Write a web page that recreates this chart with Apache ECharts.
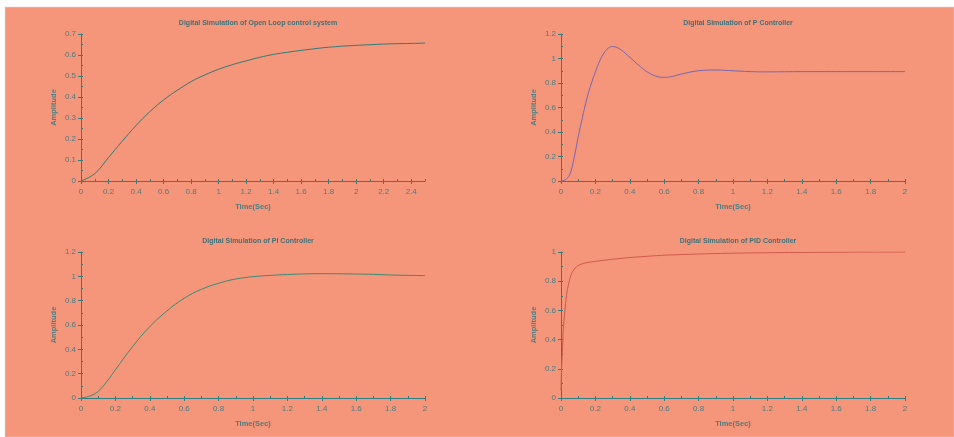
<!DOCTYPE html>
<html><head><meta charset="utf-8">
<script src="https://cdn.jsdelivr.net/npm/echarts@6/dist/echarts.min.js"></script>
<style>html,body{margin:0;padding:0;background:#fff}#c{width:954px;height:437px}</style>
</head><body><div id="c"></div>
<script>
// ---- data ----
const titles = [
  'Digital Simulation of Open Loop control system',
  'Digital Simulation of P Controller',
  'Digital Simulation of PI Controller',
  'Digital Simulation of PID Controller'
];
const openT = [0,0.1,0.2,0.3,0.4,0.5,0.6,0.7,0.8,0.9,1.0,1.1,1.2,1.3,1.4,1.5,1.6,1.7,1.8,1.9,2.0,2.1,2.2,2.3,2.4,2.5];
const openY = [0,0.035,0.112,0.19,0.264,0.33,0.386,0.432,0.473,0.505,0.532,0.554,0.572,0.589,0.603,0.613,0.622,0.63,0.637,0.642,0.646,0.649,0.652,0.654,0.655,0.657];
const pT = [0,0.025,0.05,0.075,0.1,0.125,0.15,0.175,0.2,0.225,0.25,0.275,0.3,0.325,0.35,0.4,0.45,0.5,0.55,0.6,0.65,0.7,0.8,0.9,1.0,1.1,1.2,1.4,1.6,1.8,2.0];
const pY = [0,0.01,0.05,0.18,0.36,0.52,0.67,0.79,0.89,0.98,1.045,1.085,1.098,1.09,1.07,1.01,0.947,0.892,0.857,0.846,0.855,0.873,0.9,0.906,0.9,0.893,0.891,0.893,0.893,0.893,0.893];
const piT = [0,0.05,0.1,0.15,0.2,0.3,0.4,0.5,0.6,0.7,0.8,0.9,1.0,1.1,1.2,1.3,1.4,1.5,1.6,1.7,1.8,1.9,2.0];
const piY = [0,0.015,0.055,0.135,0.232,0.423,0.587,0.716,0.82,0.893,0.943,0.978,0.997,1.008,1.015,1.02,1.022,1.021,1.019,1.016,1.011,1.008,1.006];
const pidT = [0,0.003,0.008,0.0135,0.023,0.033,0.043,0.062,0.091,0.13,0.2,0.3,0.4,0.6,0.8,1.0,1.2,1.4,1.6,1.8,2.0];
const pidY = [0.05,0.2,0.31,0.47,0.6,0.71,0.775,0.854,0.9,0.922,0.936,0.95,0.962,0.978,0.986,0.992,0.995,0.997,0.998,1.0,1.0];
const xMax = [2.5, 2, 2, 2];
const yMax = [0.7, 1.2, 1.2, 1];
const yInterval = [0.1, 0.2, 0.2, 0.2];
const lineColors = ['#2f7a7a', '#7468b4', '#3a8a74', '#cc5a4c'];
const smoothing = [0.4, 0.4, 0.4, 0.25];

// ---- layout ----
const grids = [
  {left: 81, top: 34, width: 344, height: 147},
  {left: 561, top: 34, width: 344, height: 147},
  {left: 81, top: 252, width: 344, height: 146},
  {left: 561, top: 252, width: 344, height: 146}
];
const axisColor = '#2e7f84';
const textColor = '#4d7c82';
const font = 'Liberation Sans, Arial, sans-serif';
const seriesData = [[openT, openY], [pT, pY], [piT, piY], [pidT, pidY]];

const xAxis = [], yAxis = [], series = [], title = [];
grids.forEach((g, i) => {
  title.push({
    text: titles[i], left: g.left + g.width / 2, top: g.top - 19, textAlign: 'center',
    textStyle: {fontSize: 7, fontWeight: 'bold', color: '#3f7078', fontFamily: font}
  });
  xAxis.push({
    type: 'value', gridIndex: i, position: 'bottom', min: 0, max: xMax[i], interval: 0.2,
    name: 'Time(Sec)', nameLocation: 'middle', nameGap: 22,
    nameTextStyle: {fontSize: 7.5, fontWeight: 'bold', color: textColor, fontFamily: font},
    axisLine: {show: true, onZero: false, lineStyle: {color: axisColor, width: 1}},
    axisTick: {show: true, length: 3, lineStyle: {color: axisColor}},
    axisLabel: {fontSize: 8, color: textColor, fontFamily: font, margin: 7, showMaxLabel: i !== 0,
      formatter: v => String(Math.round(v * 10) / 10)},
    splitLine: {show: false}
  });
  xAxis.push({
    type: 'value', gridIndex: i, position: 'bottom', min: 0, max: xMax[i], interval: 0.1,
    axisLine: {show: false}, axisLabel: {show: false}, splitLine: {show: false},
    axisTick: {show: true, inside: true, length: 2, lineStyle: {color: axisColor}}
  });
  yAxis.push({
    type: 'value', gridIndex: i, position: 'left', min: 0, max: yMax[i], interval: yInterval[i],
    name: 'Amplitude', nameLocation: 'middle', nameGap: 23,
    nameTextStyle: {fontSize: 7.5, fontWeight: 'bold', color: textColor, fontFamily: font},
    axisLine: {show: true, onZero: false, lineStyle: {color: axisColor, width: 1}},
    axisTick: {show: true, length: 3, lineStyle: {color: axisColor}},
    axisLabel: {fontSize: 8, color: textColor, fontFamily: font, margin: 5,
      formatter: v => String(Math.round(v * 10) / 10)},
    splitLine: {show: false}
  });
  yAxis.push({
    type: 'value', gridIndex: i, position: 'left', min: 0, max: yMax[i], interval: yInterval[i] / 2,
    axisLine: {show: false}, axisLabel: {show: false}, splitLine: {show: false},
    axisTick: {show: true, inside: true, length: 2, lineStyle: {color: axisColor}}
  });
  const [ts, ys] = seriesData[i];
  series.push({
    type: 'line', xAxisIndex: i * 2, yAxisIndex: i * 2, showSymbol: false, smooth: smoothing[i],
    silent: true, animation: false,
    lineStyle: {color: lineColors[i], width: 1},
    data: ts.map((t, k) => [t, ys[k]])
  });
});

const chart = echarts.init(document.getElementById('c'), null, {renderer: 'canvas'});
chart.setOption({
  backgroundColor: '#ffffff',
  animation: false,
  graphic: [{type: 'rect', z: -10, silent: true, shape: {x: 5, y: 7, width: 949, height: 430},
    style: {fill: '#f5967a', stroke: '#d8d8d8', lineWidth: 0.5}}],
  title, grid: grids.map(g => Object.assign({containLabel: false}, g)), xAxis, yAxis, series
});
</script></body></html>
